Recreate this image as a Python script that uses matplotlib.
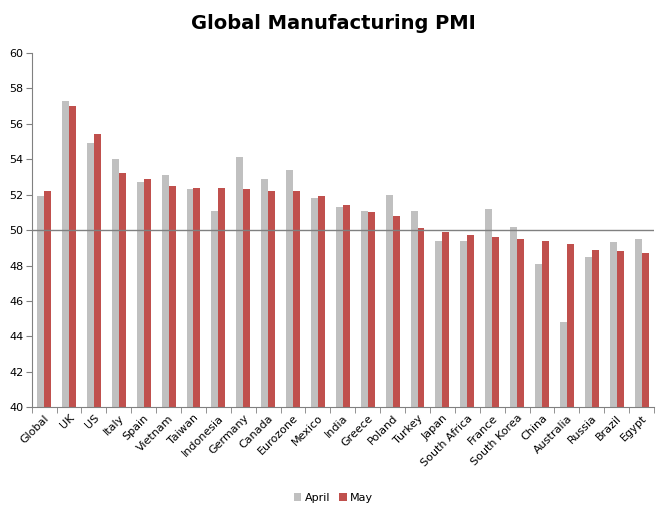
import numpy as np
import matplotlib
matplotlib.use("Agg")
import matplotlib.pyplot as plt

# ==============================
# DATA
# ==============================
countries = ["Global", "UK", "US", "Italy", "Spain", "Vietnam", "Taiwan", "Indonesia",
             "Germany", "Canada", "Eurozone", "Mexico", "India", "Greece", "Poland",
             "Turkey", "Japan", "South Africa", "France", "South Korea", "China",
             "Australia", "Russia", "Brazil", "Egypt"]
april = [51.9, 57.3, 54.9, 54.0, 52.7, 53.1, 52.3, 51.1,
         54.1, 52.9, 53.4, 51.8, 51.3, 51.1, 52.0,
         51.1, 49.4, 49.4, 51.2, 50.2, 48.1,
         44.8, 48.5, 49.3, 49.5]
may = [52.2, 57.0, 55.4, 53.2, 52.9, 52.5, 52.4, 52.4,
       52.3, 52.2, 52.2, 51.9, 51.4, 51.0, 50.8,
       50.1, 49.9, 49.7, 49.6, 49.5, 49.4,
       49.2, 48.9, 48.8, 48.7]
yticks = [40, 42, 44, 46, 48, 50, 52, 54, 56, 58, 60]

# ==============================
# PLOT
# ==============================
plt.rcParams['font.family'] = ['DejaVu Sans']
fig = plt.figure(figsize=(6.67, 5.17), dpi=100)
ax = fig.add_axes([0.0475, 0.212, 0.933, 0.686])

x = np.arange(len(countries))
w = 0.28
ax.bar(x - w / 2, april, width=w, color="#C0C0C0", label="April", zorder=2)
ax.bar(x + w / 2, may, width=w, color="#C0504D", label="May", zorder=2)
ax.axhline(50, color="#808080", lw=1.0, zorder=3)

ax.set_ylim(40, 60)
ax.set_xlim(-0.5, len(countries) - 0.5)
ax.set_yticks(yticks)
ax.tick_params(axis="y", labelsize=8, length=4, color="#808080", pad=2)

# category labels centred, tick marks between categories
ax.set_xticks(x)
ax.set_xticklabels(countries, rotation=45, ha="right", rotation_mode="anchor", fontsize=8)
ax.tick_params(axis="x", which="major", length=0, pad=4)
ax.set_xticks(np.arange(len(countries) + 1) - 0.5, minor=True)
ax.tick_params(axis="x", which="minor", length=4, color="#808080")

for side in ["top", "right"]:
    ax.spines[side].set_visible(False)
for side in ["left", "bottom"]:
    ax.spines[side].set_color("#808080")

fig.text(0.5, 0.955, "Global Manufacturing PMI", ha="center", va="center",
         fontsize=14, fontweight="bold")

fig.legend(loc="center", bbox_to_anchor=(0.5, 0.037), ncol=2, frameon=False,
           fontsize=8, handlelength=0.7, handleheight=0.7, handletextpad=0.3,
           columnspacing=0.8)

fig.savefig("out.png", dpi=100)
